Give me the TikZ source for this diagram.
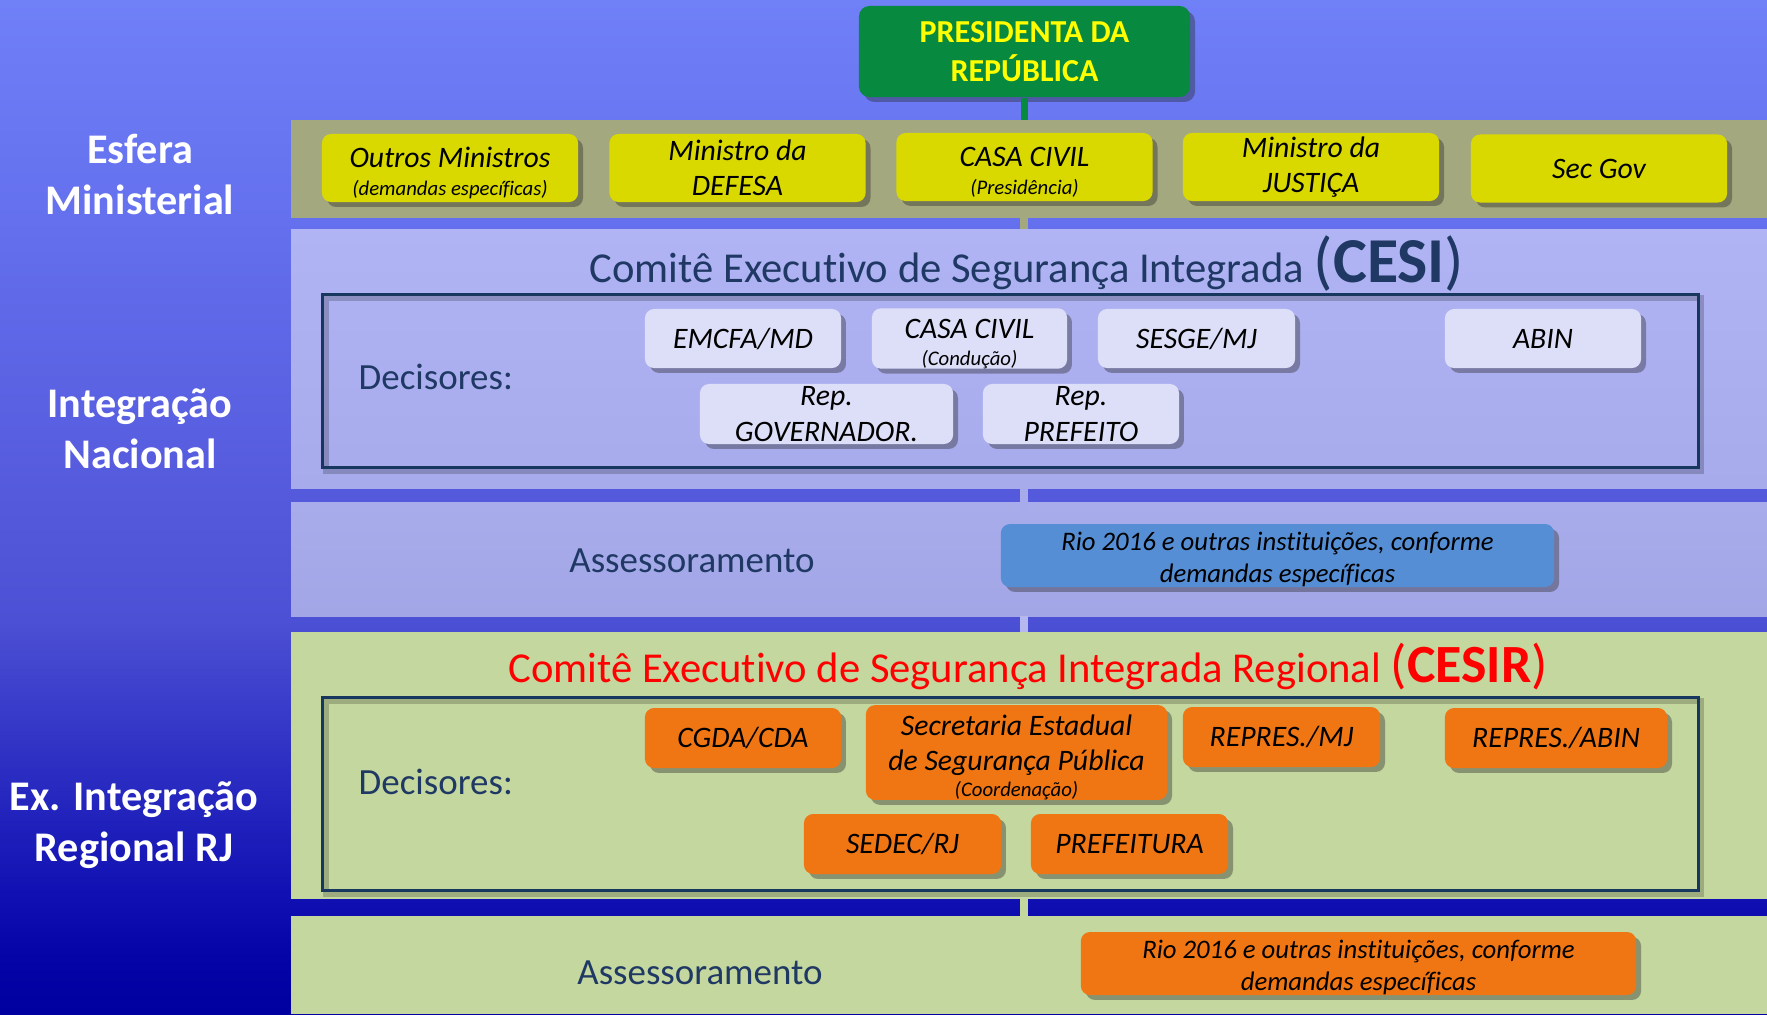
\documentclass[tikz,border=0pt]{standalone}
\usepackage{fontspec}
\setmainfont[Ligatures=NoCommon]{Carlito}
\usetikzlibrary{shadows}
\definecolor{bgA}{RGB}{0,0,160}
\definecolor{bgB}{RGB}{5,5,168}
\definecolor{bgC}{RGB}{15,15,178}
\definecolor{bgD}{RGB}{76,80,212}
\definecolor{bgE}{RGB}{85,90,220}
\definecolor{bgF}{RGB}{100,112,238}
\definecolor{bgG}{RGB}{112,128,247}
\definecolor{olivec}{RGB}{164,168,126}
\definecolor{lavtop}{RGB}{176,180,244}
\definecolor{lavbot}{RGB}{167,171,236}
\definecolor{asstop}{RGB}{168,172,235}
\definecolor{assbot}{RGB}{162,166,230}
\definecolor{greenband}{RGB}{196,215,158}
\definecolor{yboxc}{RGB}{217,217,0}
\definecolor{lavc}{RGB}{221,223,248}
\definecolor{bluec}{RGB}{85,142,213}
\definecolor{orc}{RGB}{240,118,20}
\definecolor{presg}{RGB}{7,138,63}
\definecolor{navyc}{RGB}{31,56,100}
\definecolor{framec}{RGB}{23,55,94}
\definecolor{presy}{RGB}{255,255,0}
\pgfdeclareverticalshading{bgshade}{100bp}{color(0bp)=(bgA); color(25bp)=(bgA); color(28.2bp)=(bgB); color(30.6bp)=(bgC); color(44.4bp)=(bgD); color(50.6bp)=(bgE); color(64.2bp)=(bgF); color(75bp)=(bgG); color(100bp)=(bgG)}
\newcommand\lowr{\rule{0pt}{8.6pt}}
\newcommand\lowrio{\rule{0pt}{7.4pt}}
\newcommand\smalltx[1]{{\fontsize{5.9}{7}\selectfont #1}}
\begin{document}
\begin{tikzpicture}[x=0.01cm,y=-0.01cm,
  shad/.style={drop shadow={shadow xshift=1.4pt,shadow yshift=-1.4pt,opacity=.38,fill=black!85}},
  band/.style={anchor=north west,inner sep=0pt,outer sep=0pt},
  boxbase/.style={shad,rounded corners=2.6pt,inner sep=0pt,align=center,text=black,
    font=\itshape\fontsize{8.45}{10}\selectfont},
  ybox/.style={boxbase,fill=yboxc,minimum width=2.56cm,minimum height=0.68cm},
  lbox/.style={boxbase,fill=lavc,minimum height=0.59cm},
  obox/.style={boxbase,fill=orc,minimum height=0.60cm},
  riobox/.style={boxbase,minimum height=0.63cm,font=\itshape\fontsize{7.6}{9}\selectfont},
  sidelbl/.style={text=white,align=center,font=\bfseries\fontsize{12}{14.5}\selectfont},
  midlbl/.style={text=navyc,inner sep=0pt,font=\fontsize{10.5}{12}\selectfont},
  frameb/.style={draw=framec,line width=0.85pt,anchor=north west,inner sep=0pt},
  frsh/.style={black,opacity=.2,line width=1.6pt}]
\useasboundingbox (0,0) rectangle (1767,1014);
\shade[shading=bgshade] (0,0) rectangle (1767,1014);

% bands
\node[band,fill=olivec,minimum width=14.76cm,minimum height=0.98cm] (b1) at (291,120) {};
\node[band,top color=lavtop,bottom color=lavbot,minimum width=14.76cm,minimum height=2.59cm] (b2) at (291,229) {};
\node[band,top color=asstop,bottom color=assbot,minimum width=14.76cm,minimum height=1.14cm] (b3) at (291,502) {};
\node[band,fill=greenband,minimum width=14.76cm,minimum height=2.67cm] (b4) at (291,632) {};
\node[band,fill=greenband,minimum width=14.76cm,minimum height=0.98cm] (b5) at (291,916) {};

% president
\node[shad,fill=presg,rounded corners=3pt,minimum width=3.31cm,minimum height=0.91cm,
  text=presy,align=center,font=\bfseries\fontsize{9.1}{10.9}\selectfont] (pres) at (1024.5,51.5)
  {PRESIDENTA DA\\REPÚBLICA};

% connectors between bands
\coordinate (cx) at (1024,0);
\draw[presg,line width=2pt] (pres.south) -- (pres.south |- b1.north);
\draw[olivec,line width=2.5pt] (b1.south -| cx) -- (b2.north -| cx);
\draw[lavbot,line width=2.5pt] (b2.south -| cx) -- ([yshift=-2.5pt]b3.north -| cx);
\draw[asstop!85!white,line width=2.5pt] (b3.south -| cx) -- (b4.north -| cx);
\draw[greenband,line width=2.5pt] (b4.south -| cx) -- (b5.north -| cx);

% side labels
\node[sidelbl] (esf) at (140,174) {Esfera\\Ministerial};
\node[sidelbl] (intn) at (140,429) {Integração\\Nacional};
\node[sidelbl] (exr) at (134,825) {Ex. Integração\\Regional RJ};

% band 1 boxes
\node[ybox] (m1) at (450,168) {\lowr Outros Ministros\\[-2.1pt]\smalltx{(demandas específicas)}};
\node[ybox] (m2) at (737.5,168) {Ministro da\\DEFESA};
\node[ybox] (m3) at (1024.5,167) {\lowr CASA CIVIL\\[-2.1pt]\smalltx{(Presidência)}};
\node[ybox] (m4) at (1311,167) {Ministro da\\JUSTIÇA};
\node[ybox] (m5) at (1599,168.5) {Sec Gov};

% CESI
\node[anchor=base,text=navyc,inner sep=0pt,font=\fontsize{12.12}{14}\selectfont] (t1) at (1027,282)
  {Comitê Executivo de Segurança Integrada {\fontsize{18.2}{20}\selectfont(\textbf{CESI})}};
\draw[frsh] (326,298) rectangle (1701,471);
\node[frameb,minimum width=13.75cm,minimum height=1.73cm] (f1) at (321,293) {};
\node[midlbl,anchor=base west] (d1) at (358,389) {Decisores:};
\node[lbox,minimum width=1.96cm] (c1) at (743,338.5) {EMCFA/MD};
\node[lbox,minimum width=1.95cm] (c2) at (969.5,338.5) {\lowr CASA CIVIL\\[-2.4pt]\smalltx{(Condução)}};
\node[lbox,minimum width=1.97cm] (c3) at (1196.5,338.5) {SESGE/MJ};
\node[lbox,minimum width=1.96cm] (c4) at (1543,338.5) {ABIN};
\node[lbox,minimum width=2.53cm,minimum height=0.60cm] (c5) at (826.5,414) {Rep.\\GOVERNADOR.};
\node[lbox,minimum width=1.96cm,minimum height=0.60cm] (c6) at (1081,414) {Rep.\\PREFEITO};

% Assessoramento 1
\node[midlbl,anchor=base] (a1) at (692,572) {Assessoramento};
\node[riobox,fill=bluec,minimum width=5.53cm] (r1) at (1277.5,555.5)
  {\lowrio Rio 2016 e outras instituições, conforme\\demandas específicas};

% CESIR
\node[anchor=base,text=red,inner sep=0pt,font=\fontsize{12.12}{14}\selectfont] (t2) at (1028,682)
  {Comitê Executivo de Segurança Integrada Regional {\fontsize{15.3}{18}\selectfont(\textbf{CESIR})}};
\draw[frsh] (326,701) rectangle (1701,894);
\node[frameb,minimum width=13.75cm,minimum height=1.93cm] (f2) at (321,696) {};
\node[midlbl,anchor=base west] (d2) at (358,794) {Decisores:};
\node[obox,minimum width=1.96cm] (o1) at (743,738) {CGDA/CDA};
\node[obox,minimum width=3.01cm,minimum height=0.91cm] (o2) at (1016.5,752.5)
  {\lowr Secretaria Estadual\\de Segurança Pública\\[-2.6pt]\smalltx{(Coordenação)}};
\node[obox,minimum width=1.97cm] (o3) at (1281.5,737) {REPRES./MJ};
\node[obox,minimum width=2.22cm] (o4) at (1556,738) {REPRES./ABIN};
\node[obox,minimum width=1.97cm] (o5) at (902.5,844) {SEDEC/RJ};
\node[obox,minimum width=1.97cm] (o6) at (1129.5,844) {PREFEITURA};

% Assessoramento 2
\node[midlbl,anchor=base] (a2) at (700,984) {Assessoramento};
\node[riobox,fill=orc,minimum width=5.55cm] (r2) at (1358.5,963.5)
  {\lowrio Rio 2016 e outras instituições, conforme\\demandas específicas};
\end{tikzpicture}
\end{document}
